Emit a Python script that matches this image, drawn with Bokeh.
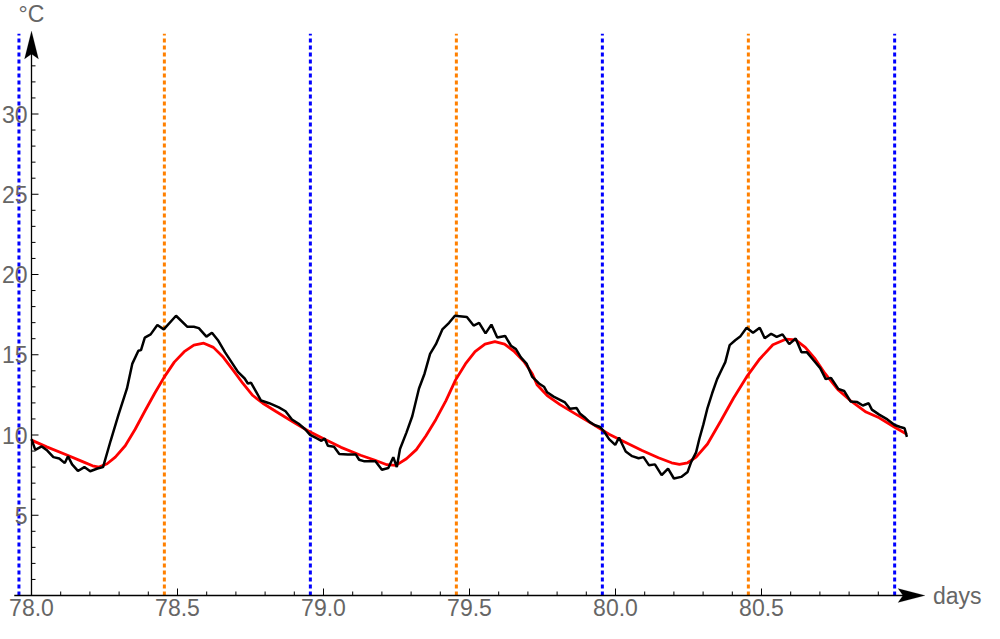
from bokeh.plotting import figure
from bokeh.models import PolyAnnotation
from bokeh.core.properties import value
from bokeh.embed import file_html
from bokeh.resources import INLINE

# ---------------- data ----------------
black_days = [78.000, 78.013, 78.035, 78.054, 78.075, 78.095, 78.114, 78.125, 78.139, 78.159,
              78.181, 78.201, 78.226, 78.245, 78.271, 78.298, 78.327, 78.345, 78.366, 78.375,
              78.388, 78.408, 78.431, 78.453, 78.495, 78.534, 78.556, 78.573, 78.599, 78.618,
              78.640, 78.663, 78.685, 78.707, 78.730, 78.741, 78.752, 78.769, 78.786, 78.814,
              78.847, 78.870, 78.892, 78.915, 78.937, 78.954, 78.976, 78.993, 79.004, 79.015,
              79.036, 79.054, 79.083, 79.111, 79.122, 79.138, 79.178, 79.200, 79.222, 79.239,
              79.251, 79.262, 79.284, 79.304, 79.327, 79.346, 79.365, 79.385, 79.407, 79.430,
              79.450, 79.491, 79.514, 79.533, 79.555, 79.575, 79.595, 79.622, 79.642, 79.659,
              79.676, 79.696, 79.715, 79.738, 79.755, 79.766, 79.788, 79.810, 79.827, 79.844,
              79.867, 79.878, 79.894, 79.911, 79.928, 79.947, 79.962, 79.978, 79.999, 80.012,
              80.035, 80.057, 80.079, 80.096, 80.115, 80.135, 80.158, 80.180, 80.200, 80.225,
              80.247, 80.259, 80.276, 80.287, 80.301, 80.315, 80.331, 80.348, 80.365, 80.376,
              80.391, 80.410, 80.427, 80.449, 80.471, 80.494, 80.511, 80.533, 80.552, 80.572,
              80.595, 80.617, 80.637, 80.656, 80.679, 80.701, 80.720, 80.738, 80.763, 80.783,
              80.805, 80.828, 80.847, 80.867, 80.878, 80.903, 80.931, 80.956, 80.975, 80.990,
              80.998]
black_temp = [9.74, 9.07, 9.29, 9.03, 8.62, 8.54, 8.25, 8.68, 8.17, 7.76,
              8.00, 7.74, 7.91, 8.00, 9.64, 11.27, 12.90, 14.43, 15.25, 15.29,
              16.07, 16.27, 16.85, 16.58, 17.43, 16.74, 16.74, 16.66, 16.13, 16.37,
              15.87, 15.15, 14.54, 13.93, 13.52, 13.21, 13.25, 12.70, 12.15, 11.98,
              11.72, 11.48, 10.97, 10.70, 10.36, 10.01, 9.80, 9.64, 9.78, 9.33,
              9.27, 8.82, 8.78, 8.78, 8.46, 8.37, 8.37, 7.84, 7.94, 8.62,
              8.00, 9.13, 10.15, 11.17, 12.90, 13.82, 15.05, 15.66, 16.58, 16.99,
              17.43, 17.35, 16.82, 16.99, 16.33, 16.88, 16.07, 16.17, 15.56, 15.35,
              14.84, 14.43, 13.62, 13.21, 13.01, 12.66, 12.39, 12.19, 12.03, 11.64,
              11.68, 11.34, 11.11, 10.82, 10.62, 10.50, 10.19, 9.74, 9.38, 9.84,
              8.97, 8.68, 8.55, 8.62, 8.11, 8.17, 7.50, 7.91, 7.29, 7.39,
              7.70, 8.31, 8.92, 9.75, 10.66, 11.68, 12.60, 13.48, 14.13, 14.54,
              15.60, 15.90, 16.13, 16.68, 16.37, 16.68, 16.03, 16.31, 16.11, 16.27,
              15.66, 16.01, 15.15, 15.15, 14.64, 14.17, 13.48, 13.56, 12.87, 12.74,
              12.09, 12.05, 11.84, 11.98, 11.58, 11.27, 10.97, 10.62, 10.50, 10.42,
              9.88]

red_days = [78.000, 78.052, 78.119, 78.175, 78.209, 78.231, 78.259, 78.287, 78.321, 78.355,
            78.388, 78.422, 78.455, 78.489, 78.523, 78.556, 78.590, 78.623, 78.657, 78.691,
            78.724, 78.758, 78.792, 78.836, 78.892, 78.948, 79.004, 79.060, 79.127, 79.172,
            79.217, 79.248, 79.284, 79.318, 79.351, 79.385, 79.419, 79.452, 79.486, 79.519,
            79.553, 79.587, 79.620, 79.654, 79.688, 79.715, 79.732, 79.766, 79.810, 79.867,
            79.923, 79.978, 80.035, 80.091, 80.147, 80.192, 80.219, 80.247, 80.276, 80.315,
            80.360, 80.404, 80.449, 80.494, 80.539, 80.583, 80.617, 80.650, 80.684, 80.718,
            80.763, 80.808, 80.858, 80.903, 80.959, 80.998]
red_temp = [9.68, 9.26, 8.77, 8.34, 8.08, 8.00, 8.21, 8.62, 9.33, 10.36,
            11.48, 12.60, 13.62, 14.54, 15.19, 15.60, 15.72, 15.46, 14.84, 14.03,
            13.21, 12.46, 11.98, 11.48, 10.86, 10.25, 9.74, 9.23, 8.74, 8.46,
            8.15, 8.11, 8.52, 9.09, 9.95, 10.97, 12.13, 13.42, 14.43, 15.19,
            15.66, 15.82, 15.66, 15.19, 14.54, 13.82, 13.11, 12.46, 11.89, 11.27,
            10.66, 10.05, 9.54, 9.03, 8.58, 8.27, 8.17, 8.27, 8.62, 9.44,
            10.86, 12.29, 13.62, 14.74, 15.62, 15.97, 15.93, 15.46, 14.74, 13.82,
            12.80, 12.09, 11.43, 11.07, 10.45, 10.05]

blue_days = [77.957, 78.955, 79.955, 80.956]
orange_days = [78.455, 79.455, 80.455]

x_major = [78.0, 78.5, 79.0, 79.5, 80.0, 80.5]
x_labels = ["78.0", "78.5", "79.0", "79.5", "80.0", "80.5"]
x_minor = [78.1, 78.2, 78.3, 78.4, 78.6, 78.7, 78.8, 78.9,
           79.1, 79.2, 79.3, 79.4, 79.6, 79.7, 79.8, 79.9,
           80.1, 80.2, 80.3, 80.4, 80.6, 80.7, 80.8, 80.9]
y_major = [5, 10, 15, 20, 25, 30]
y_labels = ["5", "10", "15", "20", "25", "30"]
y_minor = [1, 2, 3, 4, 6, 7, 8, 9, 11, 12, 13, 14, 16, 17, 18, 19,
           21, 22, 23, 24, 26, 27, 28, 29, 31, 32, 33, 34]
x_title = "days"
y_title = "°C"

# ---------------- layout ----------------
W, H = 984, 623
SX = 292.0          # px per day
SY = 16.05          # px per degree
AXIS_PX_X = 31      # y-axis position from left edge
AXIS_PX_Y = 595     # x-axis position from top edge
X0 = 78.0 - AXIS_PX_X / SX
X1 = X0 + W / SX
Y0 = -(H - AXIS_PX_Y) / SY
Y1 = Y0 + H / SY

AX_X = 78.0
AX_START = 77.941
X_TIP = 81.06
Y_TIP = 35.17
LINE_TOP = 35.0

FONT = "Liberation Sans"
FSIZE = "23px"
TCOL = "#666666"

p = figure(width=W, height=H, x_range=(X0, X1), y_range=(Y0, Y1),
           output_backend="svg", toolbar_location=None,
           x_axis_location=None, y_axis_location=None,
           min_border_left=0, min_border_right=0, min_border_top=0, min_border_bottom=0)
p.outline_line_color = None
p.grid.visible = False
p.background_fill_color = "white"

# dotted reference lines (behind)
p.segment(x0=blue_days, y0=[0] * len(blue_days), x1=blue_days, y1=[LINE_TOP] * len(blue_days),
          line_color="#0000FF", line_width=3, line_dash="4 3")
p.segment(x0=orange_days, y0=[0] * len(orange_days), x1=orange_days, y1=[LINE_TOP] * len(orange_days),
          line_color="#FF8000", line_width=3, line_dash="4 3")

# curves
p.line(red_days, red_temp, line_color="#FF0000", line_width=2.8)
p.line(black_days, black_temp, line_color="black", line_width=2.5)

# axis lines
p.segment(x0=[AX_START], y0=[0], x1=[X_TIP - 20 / SX], y1=[0], line_color="black", line_width=1.3)
p.segment(x0=[AX_X], y0=[0], x1=[AX_X], y1=[Y_TIP - 20 / SY], line_color="black", line_width=1.3)
# arrow heads
p.add_layout(PolyAnnotation(xs=[X_TIP, X_TIP - 27 / SX, X_TIP - 22 / SX, X_TIP - 27 / SX],
                            ys=[0, 7 / SY, 0, -7 / SY],
                            fill_color="black", fill_alpha=1.0, line_color="black", line_width=0.5))
p.add_layout(PolyAnnotation(xs=[AX_X, AX_X - 7 / SX, AX_X, AX_X + 7 / SX],
                            ys=[Y_TIP, Y_TIP - 28 / SY, Y_TIP - 23 / SY, Y_TIP - 28 / SY],
                            fill_color="black", fill_alpha=1.0, line_color="black", line_width=0.5))

# x-axis ticks
p.segment(x0=x_major, y0=[0] * len(x_major), x1=x_major, y1=[7 / SY] * len(x_major),
          line_color="black", line_width=1)
p.segment(x0=x_minor, y0=[0] * len(x_minor), x1=x_minor, y1=[4 / SY] * len(x_minor),
          line_color="black", line_width=1)
# y-axis ticks
p.segment(x0=[AX_X] * len(y_major), y0=y_major, x1=[AX_X + 7 / SX] * len(y_major), y1=y_major,
          line_color="black", line_width=1)
p.segment(x0=[AX_X] * len(y_minor), y0=y_minor, x1=[AX_X + 4 / SX] * len(y_minor), y1=y_minor,
          line_color="black", line_width=1)

# tick labels
p.text(x=x_major, y=[0] * len(x_major), text=x_labels, y_offset=12,
       text_align="center", text_baseline="middle",
       text_font=value(FONT), text_font_size=FSIZE, text_color=TCOL)
p.text(x=[AX_X] * len(y_major), y=y_major, text=y_labels, x_offset=-4,
       text_align="right", text_baseline="middle",
       text_font=value(FONT), text_font_size=FSIZE, text_color=TCOL)
# axis titles
p.text(x=[X_TIP], y=[0], text=[x_title], x_offset=8, text_align="left", text_baseline="middle",
       text_font=value(FONT), text_font_size=FSIZE, text_color=TCOL)
p.text(x=[AX_X], y=[Y_TIP], text=[y_title], y_offset=-17, text_align="center",
       text_baseline="middle",
       text_font=value(FONT), text_font_size=FSIZE, text_color=TCOL)

open("out.html", "w").write(file_html(p, INLINE))
